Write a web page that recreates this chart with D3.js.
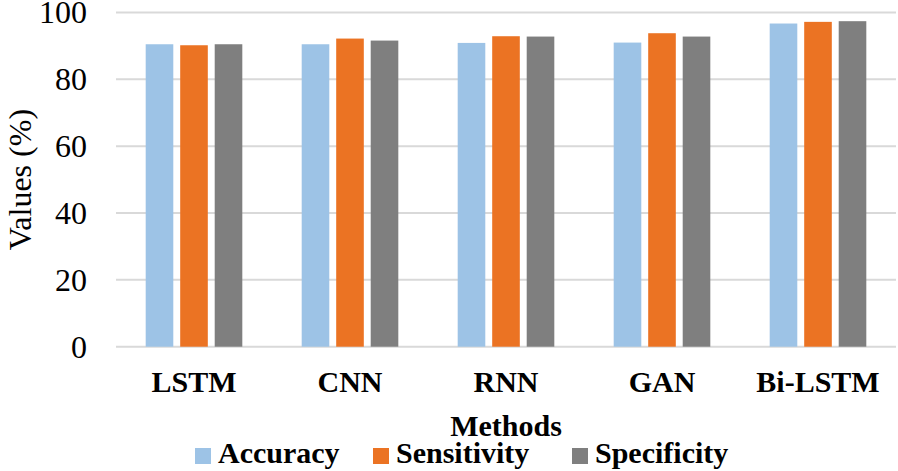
<!DOCTYPE html>
<html><head><meta charset="utf-8">
<script src="https://cdn.jsdelivr.net/npm/d3@7"></script>
<style>body{margin:0;background:#fff}svg{display:block}</style>
</head><body>
<script>
const categories = ["LSTM","CNN","RNN","GAN","Bi-LSTM"];
const seriesNames = ["Accuracy","Sensitivity","Specificity"];
const accuracy = [90.5, 90.5, 90.9, 91.0, 96.7];
const sensitivity = [90.2, 92.2, 92.9, 93.8, 97.2];
const specificity = [90.5, 91.6, 92.8, 92.8, 97.4];
const yTicks = [0,20,40,60,80,100];
const colors = ["#9DC3E6","#EB7323","#7F7F7F"];
const series = [accuracy, sensitivity, specificity];

(function(){
const W = 898, H = 471;
const FF = '"Liberation Serif"';
const svg = d3.select("body").append("svg").attr("width",W).attr("height",H).style("font-family",FF);
const mLeft = 116, mRight = 896, mTop = 12.5, mBottom = 346.7;
const x = d3.scaleBand().domain(categories).range([mLeft,mRight]).padding(0);
const y = d3.scaleLinear().domain([0,100]).range([mBottom,mTop]);

// gridlines
svg.append("g").selectAll("line").data(yTicks).join("line")
  .attr("x1",mLeft).attr("x2",mRight).attr("y1",d=>y(d)).attr("y2",d=>y(d))
  .attr("stroke","#D9D9D9").attr("stroke-width",2);

// y tick labels
svg.append("g").selectAll("text").data(yTicks).join("text")
  .attr("x",87).attr("y",d=>y(d)).attr("dy","0.34em").attr("text-anchor","end")
  .style("font-family",FF).attr("font-size",32).attr("fill","#000").text(d=>d);

// bars
const inner = d3.scaleBand().domain(seriesNames).range([-49,49]).paddingInner(0.2).paddingOuter(0.02);
const gs = svg.append("g");
series.forEach((vals,si)=>{
  gs.append("g").selectAll("rect").data(vals).join("rect")
    .attr("x",(d,i)=>x(categories[i])+x.bandwidth()/2+inner(seriesNames[si]))
    .attr("width",inner.bandwidth())
    .attr("y",d=>y(d)).attr("height",d=>y(0)-y(d))
    .attr("fill",colors[si]);
});

// x labels
svg.append("g").selectAll("text").data(categories).join("text")
  .attr("x",d=>x(d)+x.bandwidth()/2).attr("y",392).attr("text-anchor","middle")
  .style("font-family",FF).attr("font-weight","bold").attr("font-size",30).attr("fill","#000").text(d=>d);

// axis titles
svg.append("text").attr("x",(mLeft+mRight)/2).attr("y",436).attr("text-anchor","middle")
  .style("font-family",FF).attr("font-weight","bold").attr("font-size",30).text("Methods");
svg.append("text").attr("transform",`translate(31,${(mTop+mBottom)/2}) rotate(-90)`).attr("text-anchor","middle")
  .style("font-family",FF).attr("font-size",32).text("Values (%)");

// legend
const legX = [195, 373, 572];
const lg = svg.append("g").selectAll("g").data(seriesNames).join("g")
  .attr("transform",(d,i)=>`translate(${legX[i]},0)`);
lg.append("rect").attr("x",0).attr("y",448).attr("width",16).attr("height",16).attr("fill",(d,i)=>colors[i]);
lg.append("text").attr("x",23).attr("y",463).style("font-family",FF).attr("font-weight","bold")
  .attr("font-size",30).text(d=>d);
})();
</script>
</body></html>
